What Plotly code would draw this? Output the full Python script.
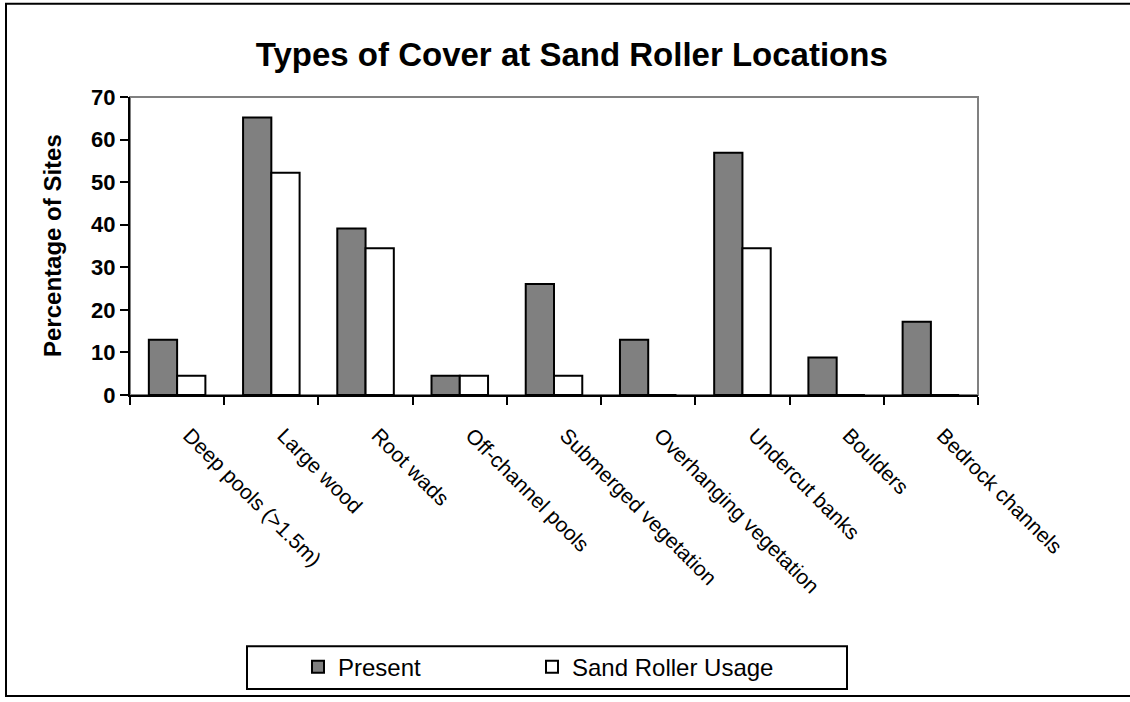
import plotly.graph_objects as go

categories = ["Deep pools (>1.5m)", "Large wood", "Root wads", "Off-channel pools",
              "Submerged vegetation", "Overhanging vegetation", "Undercut banks",
              "Boulders", "Bedrock channels"]
present = [13.0, 65.2, 39.1, 4.5, 26.1, 13.0, 56.9, 8.8, 17.2]
sand_roller_usage = [4.5, 52.2, 34.5, 4.5, 4.5, 0, 34.5, 0, 0]
y_ticks = [0, 10, 20, 30, 40, 50, 60, 70]

FONT = "Arial, Liberation Sans, sans-serif"
W, H = 1130, 702
L, R, T, B = 130, 978, 97, 397

fig = go.Figure()
fig.add_trace(go.Bar(x=categories, y=present, name="Present", legend="legend",
                     marker=dict(color="#808080", line=dict(color="black", width=2))))
fig.add_trace(go.Bar(x=categories, y=sand_roller_usage, name="Sand Roller Usage",
                     legend="legend2",
                     marker=dict(color="white", line=dict(color="black", width=2))))

def px_x(p):
    return (p - L) / (R - L)

def px_y(p):
    return (B - p) / (B - T)

shapes = [
    dict(type="rect", xref="paper", yref="paper", x0=0, x1=1, y0=0, y1=1,
         line=dict(color="#808080", width=2), layer="below"),
    dict(type="rect", xref="paper", yref="paper", x0=px_x(6), x1=px_x(1140),
         y0=px_y(700), y1=px_y(3), line=dict(color="black", width=2)),
    dict(type="rect", xref="paper", yref="paper", x0=px_x(247), x1=px_x(847),
         y0=px_y(693), y1=px_y(650), line=dict(color="black", width=2)),
]

leg_common = dict(orientation="h", xanchor="left", yanchor="middle",
                  font=dict(family=FONT, size=24, color="black"),
                  bgcolor="rgba(0,0,0,0)", borderwidth=0)

fig.update_layout(
    width=W, height=H, autosize=False,
    margin=dict(l=L, r=W - R, t=T, b=H - B, pad=0),
    paper_bgcolor="white", plot_bgcolor="white",
    barmode="group", bargap=0.4, bargroupgap=0,
    title=dict(text="<b>Types of Cover at Sand Roller Locations</b>",
               x=0.506, xanchor="center", xref="container",
               y=1 - 54 / H, yanchor="middle", yref="container",
               font=dict(family=FONT, size=33, color="black")),
    font=dict(family=FONT, color="black"),
    showlegend=True,
    legend=dict(x=px_x(298), y=px_y(671), **leg_common),
    legend2=dict(x=px_x(532), y=px_y(671), **leg_common),
    shapes=shapes,
    annotations=[dict(text="<b>Percentage of Sites</b>", xref="paper", yref="paper",
                      x=px_x(52), y=0.5, textangle=-90, showarrow=False,
                      xanchor="center", yanchor="middle",
                      font=dict(family=FONT, size=24, color="black"))],
)

fig.update_xaxes(
    showline=True, linecolor="black", linewidth=2,
    ticks="outside", ticklen=8, tickwidth=2, tickcolor="black",
    tickson="boundaries", tickangle=45,
    ticklabelstandoff=18, ticklabelshift=12,
    tickfont=dict(family=FONT, size=21, color="black"),
    showgrid=False, zeroline=False,
)
fig.update_yaxes(
    range=[0, 70], tickvals=y_ticks, ticktext=[f"<b>{v}</b>" for v in y_ticks],
    showline=True, linecolor="black", linewidth=2,
    ticks="outside", ticklen=8, tickwidth=2, tickcolor="black",
    tickfont=dict(family=FONT, size=22, color="black"),
    showgrid=False, zeroline=False,
)

fig.write_html("out.html", config={"displayModeBar": False},
               post_script="document.body.style.margin='0';document.body.style.padding='0';")
